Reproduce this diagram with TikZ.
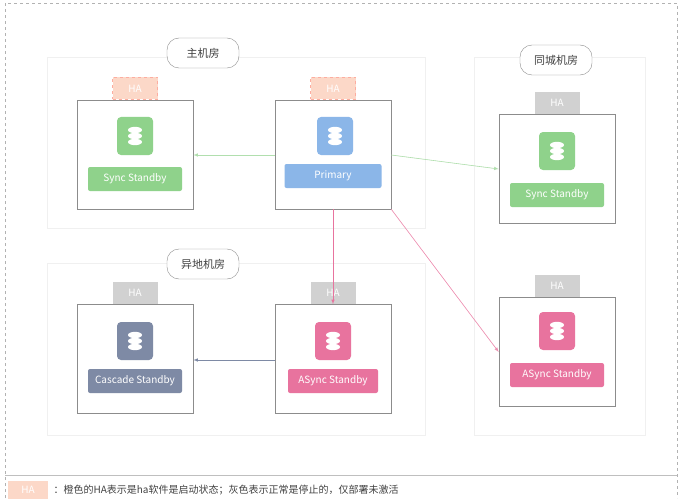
\documentclass[tikz,border=0pt]{standalone}
\usepackage{fontspec}
\setmainfont{Noto Sans CJK SC}
\begin{document}
\begin{tikzpicture}[x=1pt,y=-1pt,
 region/.style={draw=black!6,fill=white},
 rlabel/.style={draw=black!45,rounded corners=12pt,minimum width=72,minimum height=30,fill=white,font=\fontsize{11}{11}\selectfont,text=black!75},
 box/.style={draw=black!45,fill=white,minimum width=116,minimum height=109,line width=0.6pt},
 ha/.style={minimum width=45,minimum height=22,text=white,font=\fontsize{10}{10}\selectfont,inner sep=0},
 haon/.style={ha,fill=haor,draw=haor!80!red,dashed},
 haoff/.style={ha,fill=black!18},
 icon/.style={rounded corners=4pt,minimum width=36,minimum height=38,inner sep=0},
 bar/.style={rounded corners=2pt,minimum width=94,minimum height=24,text=white,font=\fontsize{10}{10}\selectfont,inner sep=0},
 arr/.style={->,>=latex,line width=0.6pt}]
\definecolor{gr}{HTML}{8FD28B}\definecolor{bl}{HTML}{8BB6E8}
\definecolor{pk}{HTML}{E8739E}\definecolor{sl}{HTML}{7E8AA5}
\definecolor{haor}{HTML}{FCD8C8}
\newcommand{\dbicon}[3]{\node[icon,fill=#3] (#1) at #2 {};
 \foreach \dy in {-6,0,6}{\fill[white] ([yshift=\dy]#1.center) ellipse (7 and 3.2);}}
\path[use as bounding box] (0,0) rectangle (682,500);
\draw[black!30,dashed] (5,498) -- (5,3) -- (677,3) -- (677,498);
\draw[black!25] (5,475) -- (677,475);
\node[region,minimum width=378,minimum height=171] (r1) at (236,142.5) {};
\node[region,minimum width=171,minimum height=378] (r2) at (559.5,246) {};
\node[region,minimum width=378,minimum height=172] (r3) at (236,349) {};
\node[rlabel] (l1) at (203,53) {主机房};
\node[rlabel] (l2) at (556,60) {同城机房};
\node[rlabel] (l3) at (203,264) {异地机房};
% nodes
\node[box] (b1) at (135,154.5) {};
\node[haon,anchor=south] (h1) at (b1.north) {HA};
\dbicon{i1}{(135,136)}{gr}
\node[bar,fill=gr] (t1) at (135,179) {Sync Standby};
\node[box] (b2) at (333,154.5) {};
\node[haon,anchor=south] (h2) at (b2.north) {HA};
\dbicon{i2}{(335,136)}{bl}
\node[bar,fill=bl,minimum width=97] (t2) at (333,176) {Primary};
\node[box] (b3) at (557,169) {};
\node[haoff,anchor=south] (h3) at (b3.north) {HA};
\dbicon{i3}{(557,151)}{gr}
\node[bar,fill=gr] (t3) at (557,195) {Sync Standby};
\node[box] (b4) at (557,351.5) {};
\node[haoff,anchor=south] (h4) at (b4.north) {HA};
\dbicon{i4}{(557,331)}{pk}
\node[bar,fill=pk] (t4) at (557,375) {ASync Standby};
\node[box] (b5) at (135,359) {};
\node[haoff,anchor=south] (h5) at (b5.north) {HA};
\dbicon{i5}{(135,341)}{sl}
\node[bar,fill=sl] (t5) at (135,381) {Cascade Standby};
\node[box] (b6) at (333,359) {};
\node[haoff,anchor=south] (h6) at (b6.north) {HA};
\dbicon{i6}{(333,341)}{pk}
\node[bar,fill=pk,minimum width=90] (t6) at (333,381) {ASync Standby};
% arrows
\draw[arr,draw=gr!70,fill=gr!70] (b2.west|-0,155) -- (b1.east|-0,155);
\draw[arr,draw=gr!70,fill=gr!70] (b2.east|-0,155) -- (b3.west|-0,169);
\draw[arr,draw=pk,fill=pk] (b2.south) -- (b6.north);
\draw[arr,draw=pk!80,fill=pk!80] (b2.south east) -- (b4.west|-0,352);
\draw[arr,draw=sl,fill=sl] (b6.west|-0,360) -- (b5.east|-0,360);
% legend
\node[fill=haor,minimum width=40,minimum height=18,text=white,font=\fontsize{10}{10}\selectfont,inner sep=0] (lg) at (28,490) {HA};
\node[anchor=west,font=\fontsize{10}{10}\selectfont,text=black!75] (lt) at (50,490) {：橙色的HA表示是ha软件是启动状态；灰色表示正常是停止的，仅部署未激活};
\end{tikzpicture}
\end{document}
